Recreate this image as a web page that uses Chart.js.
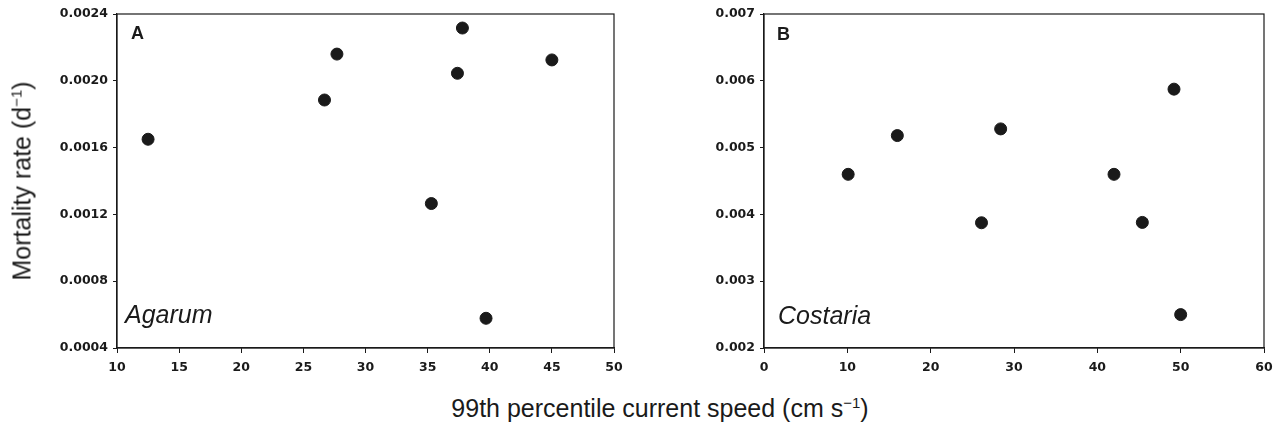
<!DOCTYPE html>
<html>
<head>
<meta charset="utf-8">
<script src="https://cdn.jsdelivr.net/npm/chart.js@4.4.1/dist/chart.umd.min.js"></script>
<style>
  html, body { margin: 0; padding: 0; background: #fff; }
  body { width: 1283px; height: 435px; position: relative; overflow: hidden; font-family: 'Liberation Sans', Arial, sans-serif; color: #1a1a1a; }
  .panel { position: absolute; top: 0; height: 380px; }
  .lbl { position: absolute; white-space: nowrap; line-height: 1; }
  .letter { font-weight: bold; font-size: 18px; }
  .species { font-style: italic; font-size: 25px; }
  .axis-title { font-size: 25px; }
  sup { font-size: 60%; vertical-align: 0; position: relative; top: -0.6em; }
</style>
</head>
<body>
<div class="panel" style="left:0;width:640px"><canvas id="chartA"></canvas></div>
<div class="panel" style="left:640px;width:643px"><canvas id="chartB"></canvas></div>

<div class="lbl letter" style="left:131px;top:24px">A</div>
<div class="lbl letter" style="left:777px;top:25px">B</div>
<div class="lbl species" style="left:125px;top:302px">Agarum</div>
<div class="lbl species" style="left:778px;top:303px">Costaria</div>
<div class="lbl axis-title" style="left:22px;top:181px;transform:translate(-50%,-50%) rotate(-90deg)">Mortality rate (d<sup>−1</sup>)</div>
<div class="lbl axis-title" style="left:660px;top:408px;transform:translate(-50%,-50%)">99th percentile current speed (cm s<sup>−1</sup>)</div>

<script>
// ── Data: Agarum (panel A) ──
const agarumSpeed = [12.5, 26.7, 27.7, 37.8, 37.4, 45.0, 35.3, 39.7];
const agarumMortality = [0.00165, 0.001885, 0.00216, 0.002316, 0.002045, 0.002125, 0.001265, 0.000578];
const xTicksA = [10, 15, 20, 25, 30, 35, 40, 45, 50];
const yTicksA = [0.0004, 0.0008, 0.0012, 0.0016, 0.0020, 0.0024];

// ── Data: Costaria (panel B) ──
const costariaSpeed = [10.1, 16.0, 26.1, 28.4, 49.2, 42.0, 45.4, 50.0];
const costariaMortality = [0.0046, 0.00518, 0.003875, 0.00528, 0.005875, 0.0046, 0.00388, 0.0025];
const xTicksB = [0, 10, 20, 30, 40, 50, 60];
const yTicksB = [0.002, 0.003, 0.004, 0.005, 0.006, 0.007];

const ink = '#1a1a1a';
Chart.defaults.font.family = "'DejaVu Sans', 'Liberation Sans', Arial, sans-serif";
Chart.defaults.color = ink;

// box around the plot area (top and right sides)
const frame = {
  id: 'frame',
  afterDraw(chart) {
    const { ctx, chartArea: a } = chart;
    ctx.save();
    ctx.strokeStyle = ink;
    ctx.lineWidth = 1.2;
    ctx.strokeRect(a.left, a.top, a.right - a.left, a.bottom - a.top);
    ctx.restore();
  }
};

function scatter(id, xs, ys, xTicks, yTicks, yDecimals, yWidth, rightPad) {
  const points = xs.map((x, i) => ({ x: x, y: ys[i] }));
  return new Chart(document.getElementById(id), {
    type: 'scatter',
    data: {
      datasets: [{
        data: points,
        backgroundColor: ink,
        borderColor: ink,
        pointRadius: 6,
        pointHoverRadius: 6
      }]
    },
    options: {
      responsive: true,
      maintainAspectRatio: false,
      animation: false,
      layout: { padding: { top: 14, right: rightPad, left: 0, bottom: 0 } },
      plugins: { legend: { display: false }, tooltip: { enabled: false } },
      scales: {
        x: {
          type: 'linear',
          min: xTicks[0],
          max: xTicks[xTicks.length - 1],
          afterBuildTicks: s => { s.ticks = xTicks.map(v => ({ value: v })); },
          afterFit: s => { s.height = 32; },
          border: { color: ink, width: 1.2 },
          grid: { drawOnChartArea: false, drawTicks: true, tickLength: 5, color: ink },
          ticks: { padding: 7, font: { size: 12.5, weight: 'bold' }, color: ink, maxRotation: 0 }
        },
        y: {
          type: 'linear',
          min: yTicks[0],
          max: yTicks[yTicks.length - 1],
          afterBuildTicks: s => { s.ticks = yTicks.map(v => ({ value: v })); },
          afterFit: s => { s.width = yWidth; },
          border: { color: ink, width: 1.2 },
          grid: { drawOnChartArea: false, drawTicks: true, tickLength: 4, color: ink },
          ticks: {
            padding: 5,
            font: { size: 12.5, weight: 'bold' },
            color: ink,
            callback: v => Number(v).toFixed(yDecimals)
          }
        }
      }
    },
    plugins: [frame]
  });
}

scatter('chartA', agarumSpeed, agarumMortality, xTicksA, yTicksA, 4, 117, 26);
scatter('chartB', costariaSpeed, costariaMortality, xTicksB, yTicksB, 3, 124, 19);
</script>
</body>
</html>
